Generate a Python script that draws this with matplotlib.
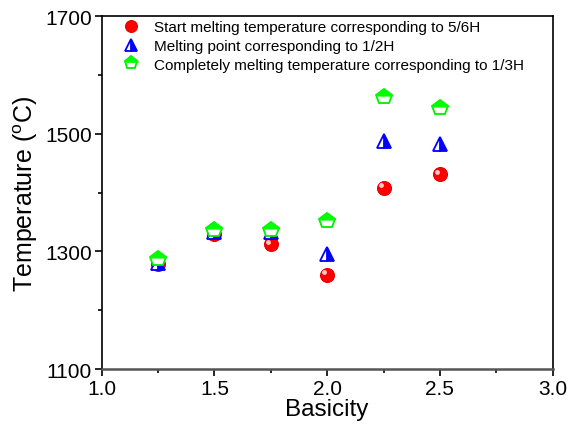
import matplotlib
matplotlib.use("Agg")
import matplotlib.pyplot as plt
from matplotlib.transforms import ScaledTranslation
from matplotlib.ticker import FixedLocator
import numpy as np

plt.rcParams['font.family'] = ['Liberation Sans', 'DejaVu Sans']

basicity = [1.25, 1.5, 1.75, 2.0, 2.25, 2.5]
start_melting = [1279, 1329, 1312, 1260, 1408, 1431]
melting_point = [1281, 1333, 1333, 1296, 1487, 1483]
complete_melting = [1287, 1337, 1337, 1351, 1562, 1544]
labels = ["Start melting temperature corresponding to 5/6H",
          "Melting point corresponding to 1/2H",
          "Completely melting temperature corresponding to 1/3H"]
x_ticks = [1.0, 1.5, 2.0, 2.5, 3.0]
x_ticklabels = ['1.0', '1.5', '2.0', '2.5', '3.0']
y_ticks = [1100, 1300, 1500, 1700]

# roof of a regular pentagon (same scale as the 'p' marker)
ang = np.deg2rad([90, 90 + 72, 90 - 72 + 360])
roof = [(np.cos(a), np.sin(a)) for a in ang] + [(0.0, 1.0)]
roof = [(0.0, 1.0), (-0.951, 0.309), (-0.951, 0.2), (0.951, 0.2), (0.951, 0.309), (0.0, 1.0)]

fig = plt.figure(figsize=(5.68, 4.27), dpi=100)
ax = fig.add_axes([0.179, 0.133, 0.794, 0.827])

h1, = ax.plot(basicity, start_melting, 'o', ms=10, color='#ff0000', mec='#e00000', mew=0.8, zorder=3)
hl = ScaledTranslation(-2/72, 2/72, fig.dpi_scale_trans)
ax.plot(basicity, start_melting, 'o', ms=3.5, color='#ffc8c8', mec='none', zorder=4,
        transform=ax.transData + hl)
h2, = ax.plot(basicity, melting_point, '^', ms=10, color='#0000ff', mfc='#0000ff',
              mfcalt='white', fillstyle='right', mec='#0000ff', mew=1.3, zorder=5)
h3a, = ax.plot(basicity, complete_melting, 'p', ms=11.5, mfc='white', mec='#00ee00',
               mew=1.3, zorder=6)
h3b, = ax.plot(basicity, complete_melting, marker=roof, ms=11.5, ls='none',
               mfc='#00ff00', mec='#00ff00', mew=1.0, zorder=7)

ax.set_xlim(1.0, 3.0)
ax.set_ylim(1100, 1700)
ax.set_xticks(x_ticks)
ax.set_xticklabels(x_ticklabels)
ax.xaxis.set_minor_locator(FixedLocator([1.25, 1.75, 2.25, 2.75]))
ax.set_yticks(y_ticks)
ax.yaxis.set_minor_locator(FixedLocator([1200, 1400, 1600]))
ax.tick_params(axis='both', which='major', direction='out', length=5, width=1.2,
               labelsize=15, pad=2)
ax.tick_params(axis='both', which='minor', direction='out', length=3, width=1.2)
for s in ['left', 'top', 'right']:
    ax.spines[s].set_linewidth(1.2)
    ax.spines[s].set_color('black')
ax.spines['bottom'].set_linewidth(1.8)
ax.spines['bottom'].set_color('#555555')

ax.set_xlabel('Basicity', fontsize=17.5, labelpad=0)
ax.set_ylabel('Temperature ($\\mathregular{^{o}}$C)', fontsize=18, labelpad=4)

ax.legend([h1, h2, (h3a, h3b)], labels, loc='upper left', bbox_to_anchor=(0.01, 1.018),
          frameon=False, fontsize=11, handletextpad=0.6, labelspacing=0.3,
          borderaxespad=0.3, handlelength=1.8, markerscale=0.85)

fig.savefig('out.png', dpi=100)
